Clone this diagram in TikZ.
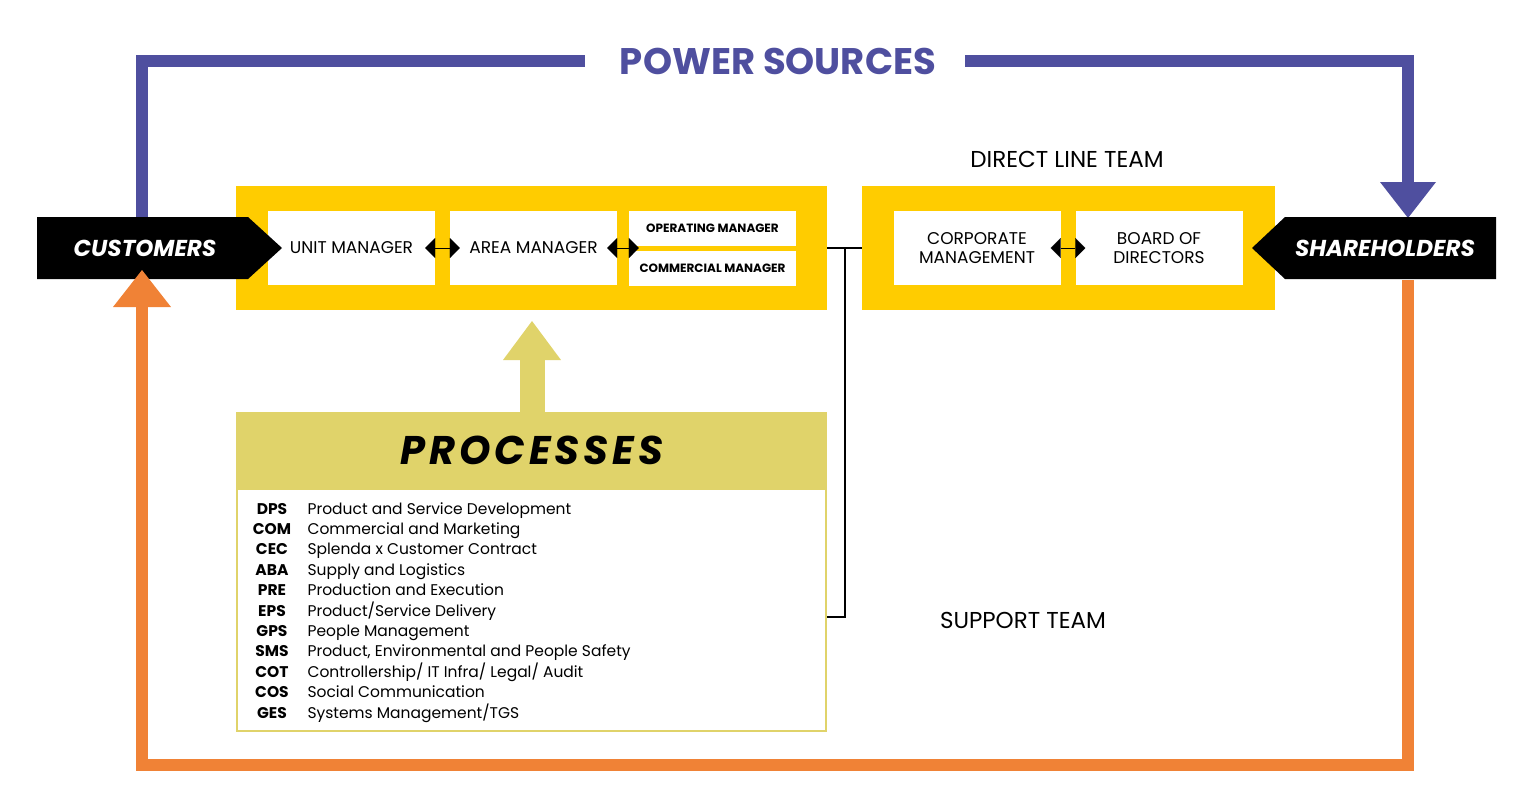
\documentclass[tikz,border=0pt]{standalone}
\usepackage{fontspec}
\setmainfont{Poppins}
\usetikzlibrary{arrows.meta}
\definecolor{power}{HTML}{4F4F9F}
\definecolor{flow}{HTML}{F08236}
\definecolor{team}{HTML}{FFCC00}
\definecolor{proc}{HTML}{E0D36A}
\tikzset{
  box/.style={fill=white,draw=none,minimum width=167pt,minimum height=74pt,inner sep=0pt,font=\fontsize{17}{19}\selectfont,align=center},
  small/.style={box,minimum height=35pt,font=\fontsize{12}{13}\selectfont\bfseries},
  tag/.style={text=white,font=\fontsize{23}{25}\selectfont\bfseries\itshape},
  link/.style={line width=0.1pt,shorten <=-10pt,shorten >=-10pt,{Triangle[length=10pt,width=20pt]}-{Triangle[length=10pt,width=20pt]}},
  code/.style={anchor=base,font=\fontsize{15.5}{17}\selectfont\bfseries},
  item/.style={anchor=base west,font=\fontsize{15.5}{17}\selectfont}
}
\begin{document}
\begin{tikzpicture}[x=1pt,y=-1pt]
      \useasboundingbox (0,0) rectangle (1537,807);
      % Loops: power and flow
      \draw[power,line width=12pt] (142,217) -- (142,61) -- (585,61);
      \draw[power,line width=12pt] (965,61) -- (1408,61) -- (1408,190);
      \fill[power] (1380,182) -- (1436,182) -- (1408,218) -- cycle;
      \draw[flow,line width=12pt] (142,300) -- (142,765) -- (1408,765) -- (1408,280);
      \node[power,font=\fontsize{37}{39}\selectfont\bfseries] (title) at (778,61) {POWER SOURCES};
      % Nodes: teams
      \fill[team] (236,186) rectangle (827,310);
      \fill[team] (862,186) rectangle (1275,310);
      \node[box] (unit) at (351.5,248) {UNIT MANAGER};
      \node[box] (area) at (533.5,248) {AREA MANAGER};
      \node[small] (oper) at (712.5,228.5) {OPERATING MANAGER};
      \node[small] (comm) at (712.5,268) {COMMERCIAL MANAGER};
      \node[box] (corp) at (977,248) {CORPORATE\\MANAGEMENT};
      \node[box] (board) at (1159,248) {BOARD OF\\DIRECTORS};
      \node[font=\fontsize{23}{25}\selectfont] (direct) at (1067,159) {DIRECT LINE TEAM};
      \node[font=\fontsize{23}{25}\selectfont] (support) at (1023,620) {SUPPORT TEAM};
      % Nodes: tags
      \fill[black] (37,217) -- (248,217) -- (282,248) -- (248,279) -- (37,279) -- cycle;
      \node[tag] (cust) at (145,248) {CUSTOMERS};
      \fill[black] (1496,217) -- (1285,217) -- (1252,248) -- (1285,279) -- (1496,279) -- cycle;
      \node[tag] (share) at (1385,248) {SHAREHOLDERS};
      \fill[flow] (113,307) -- (171,307) -- (142,270) -- cycle;
      % Arrows: between managers
      \draw[link] (unit) -- (area);
      \draw[link] (area.east) -- (oper.west |- area.east);
      \draw[link] (corp) -- (board);
      % Nodes: processes
      \fill[proc] (520,412) rectangle (545,358);
      \fill[proc] (503,360) -- (561,360) -- (532,321) -- cycle;
      \node[fill=proc,minimum width=591pt,minimum height=76pt,inner sep=0pt,font=\fontsize{40}{42}\selectfont\bfseries\itshape] (proc) at (531.5,450) {\addfontfeature{LetterSpace=10}PROCESSES};
      \node[draw=proc,line width=2pt,minimum width=589pt,minimum height=242pt,inner sep=0pt,anchor=north] (list) at (proc.south) {};
      \foreach \c/\t [count=\i from 0] in {DPS/Product and Service Development,COM/Commercial and Marketing,CEC/Splenda x Customer Contract,ABA/Supply and Logistics,PRE/Production and Execution,EPS/Product\slash Service Delivery,GPS/People Management,SMS/{Product, Environmental and People Safety},COT/Controllership\slash\ IT Infra\slash\ Legal\slash\ Audit,COS/Social Communication,GES/Systems Management\slash TGS}{
        \node[code] (c\i) at (272,514+20.4*\i) {\c};
        \node[item] (t\i) at (304,514+20.4*\i) {\t};
      }
      % Lines: support team
      \coordinate (j) at (845,248);
      \draw[line width=2pt] (827,248) -- (862,248);
      \draw[line width=2pt] (j) -- (845,617) -- (list.east |- 0,617);
    \end{tikzpicture}
\end{document}
